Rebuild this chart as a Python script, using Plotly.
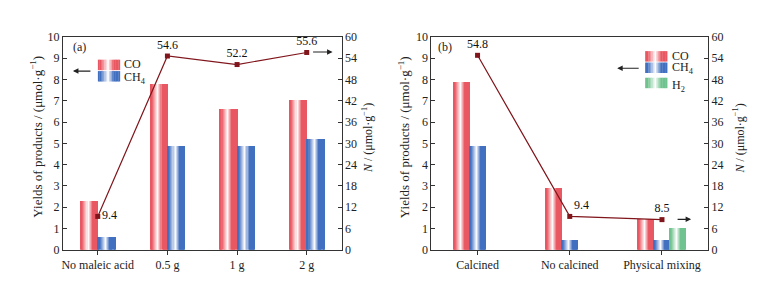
import plotly.graph_objects as go

# ---------------- data ----------------
cats_a = ["No maleic acid", "0.5 g", "1 g", "2 g"]
co_a = [2.3, 7.8, 6.6, 7.05]
ch4_a = [0.6, 4.9, 4.9, 5.2]
n_a = [9.4, 54.6, 52.2, 55.6]

cats_b = ["Calcined", "No calcined", "Physical mixing"]
co_b = [7.88, 2.93, 1.45]
ch4_b = [4.88, 0.45, 0.45]
h2_b = [0.0, 0.0, 1.05]
n_b = [54.8, 9.4, 8.5]

# ---------------- style ----------------
W, H = 761, 283
FONT = "Liberation Serif"
RED = (233, 88, 98)
BLUE = (66, 112, 192)
GREEN = (112, 194, 142)
LINE = "rgb(128,22,28)"
AX = "#333333"
NSTRIP = 16


def px(x):
    return x / W


def py(y):
    return 1 - y / H


def grad(c, t):
    def mix(a, b, f):
        return tuple(int(round(a[i] + (b[i] - a[i]) * f)) for i in range(3))
    white = (255, 255, 255)
    if t < 0.12:
        col = c
    elif t < 0.46:
        col = mix(c, white, ((t - 0.12) / 0.34) * 0.97)
    elif t < 0.72:
        col = mix(white, c, (t - 0.46) / 0.26)
    else:
        col = c
    return "rgb(%d,%d,%d)" % col


fig = go.Figure()


def add_grad_bars(xs, ys, start, width, color, xa, ya):
    sw = width / NSTRIP
    for i in range(NSTRIP):
        t = (i + 0.5) / NSTRIP
        fig.add_trace(go.Bar(
            x=xs, y=ys, offset=start + i * sw, width=sw * 1.02,
            marker=dict(color=grad(color, t), line=dict(width=0)),
            xaxis=xa, yaxis=ya, showlegend=False, hoverinfo="skip"))


pos_a = list(range(len(cats_a)))
pos_b = list(range(len(cats_b)))

# panel (a)
wa = 0.25
add_grad_bars(pos_a, co_a, -wa, wa, RED, "x", "y")
add_grad_bars(pos_a, ch4_a, 0.0, wa, BLUE, "x", "y")
fig.add_trace(go.Scatter(
    x=pos_a, y=n_a, mode="lines+markers+text",
    text=[f"{v:.1f}" for v in n_a],
    textposition=["middle right", "top center", "top center", "top center"],
    textfont=dict(family=FONT, size=12, color="#111"),
    line=dict(color=LINE, width=1.2),
    marker=dict(symbol="square", size=5, color=LINE),
    xaxis="x", yaxis="y2", showlegend=False, cliponaxis=False))

# panel (b)
wb = 0.172
add_grad_bars(pos_b, co_b, -1.5 * wb, wb, RED, "x2", "y3")
add_grad_bars(pos_b, ch4_b, -0.5 * wb, wb, BLUE, "x2", "y3")
add_grad_bars(pos_b, h2_b, 0.5 * wb, wb, GREEN, "x2", "y3")
fig.add_trace(go.Scatter(
    x=pos_b, y=n_b, mode="lines+markers+text",
    text=[f"{v:.1f}" for v in n_b],
    textposition=["top center", "top right", "top center"],
    textfont=dict(family=FONT, size=12, color="#111"),
    line=dict(color=LINE, width=1.2),
    marker=dict(symbol="square", size=5, color=LINE),
    xaxis="x2", yaxis="y4", showlegend=False, cliponaxis=False))

ydom = [py(247), py(23)]
tickfont = dict(family=FONT, size=12, color="#222")

xcommon = dict(showline=True, linecolor=AX, linewidth=1, mirror=True,
               ticks="outside", ticklen=4, tickcolor=AX, showgrid=False,
               zeroline=False, tickfont=tickfont)
ycommon = dict(showline=True, linecolor=AX, linewidth=1, ticks="inside",
               ticklen=4, tickcolor=AX, showgrid=False, zeroline=False,
               tickfont=tickfont)

fig.update_layout(
    width=W, height=H, margin=dict(l=0, r=0, t=0, b=0),
    paper_bgcolor="white", plot_bgcolor="white",
    barmode="overlay", bargap=0,
    font=dict(family=FONT, size=12, color="#222"),
    xaxis=dict(domain=[px(54), px(333)], range=[-0.5, len(cats_a) - 0.5],
               tickvals=pos_a, ticktext=cats_a, anchor="y", **xcommon),
    yaxis=dict(domain=ydom, range=[0, 10], dtick=1, anchor="x", **ycommon),
    yaxis2=dict(range=[0, 60], dtick=6, overlaying="y", side="right",
                anchor="x", **ycommon),
    xaxis2=dict(domain=[px(423), px(700)], range=[-0.5, len(cats_b) - 0.5],
                tickvals=pos_b, ticktext=cats_b, anchor="y3", **xcommon),
    yaxis3=dict(domain=ydom, range=[0, 10], dtick=1, anchor="x2", **ycommon),
    yaxis4=dict(range=[0, 60], dtick=6, overlaying="y3", side="right",
                anchor="x2", **ycommon),
)

ann = []
ytitle = "Yields of products / (μmol·g<sup>−1</sup>)"
ntitle = "<i>N</i> / (μmol·g<sup>−1</sup>)"
for xl, xr in [(27, 359), (395, 731)]:
    ann.append(dict(x=px(xl), y=py(128), xref="paper", yref="paper", text=ytitle,
                    textangle=-90, showarrow=False,
                    font=dict(family=FONT, size=13, color="#222"),
                    xanchor="center", yanchor="middle"))
    ann.append(dict(x=px(xr), y=py(130), xref="paper", yref="paper", text=ntitle,
                    textangle=-90, showarrow=False,
                    font=dict(family=FONT, size=12, color="#222"),
                    xanchor="center", yanchor="middle"))

# panel labels
ann.append(dict(x=px(62), y=py(34), xref="paper", yref="paper", text="(a)",
                showarrow=False, font=dict(family=FONT, size=12, color="#222"),
                xanchor="left", yanchor="middle"))
ann.append(dict(x=px(428), y=py(34), xref="paper", yref="paper", text="(b)",
                showarrow=False, font=dict(family=FONT, size=12, color="#222"),
                xanchor="left", yanchor="middle"))


# arrows (tail x0,y0 -> head x1,y1, in pixels)
def arrow(x0, y0, x1, y1):
    return dict(x=px(x1), y=py(y1), ax=x0 - x1, ay=y0 - y1, xref="paper",
                yref="paper", axref="pixel", ayref="pixel", showarrow=True,
                arrowhead=2, arrowsize=1.0, arrowwidth=1.1, arrowcolor="#222",
                text="")


ann += [arrow(83, 59, 64, 59), arrow(303, 39, 324, 39),
        arrow(632, 56, 609, 56), arrow(668, 215, 683, 215)]

# legends (gradient swatches)
shapes = []


def swatch(x0, x1, y0, y1, color):
    n = 14
    w = (x1 - x0) / n
    for i in range(n):
        t = (i + 0.5) / n
        shapes.append(dict(type="rect", xref="paper", yref="paper",
                           x0=px(x0 + i * w), x1=px(x0 + (i + 1) * w + 0.3),
                           y0=py(y1), y1=py(y0),
                           fillcolor=grad(color, t), line=dict(width=0)))


def legtext(x, y, text):
    ann.append(dict(x=px(x), y=py(y), xref="paper", yref="paper", text=text,
                    showarrow=False, font=dict(family=FONT, size=12, color="#222"),
                    xanchor="left", yanchor="middle"))


swatch(89, 111, 47, 58, RED)
swatch(89, 111, 59, 70, BLUE)
legtext(113, 52, "CO")
legtext(113, 66, "CH<sub>4</sub>")

swatch(637, 659, 38, 49, RED)
swatch(637, 659, 50, 61, BLUE)
swatch(637, 659, 66, 77, GREEN)
legtext(662, 43, "CO")
legtext(662, 56, "CH<sub>4</sub>")
legtext(662, 75, "H<sub>2</sub>")

fig.update_layout(annotations=ann, shapes=shapes)

fig.write_html("out.html")
